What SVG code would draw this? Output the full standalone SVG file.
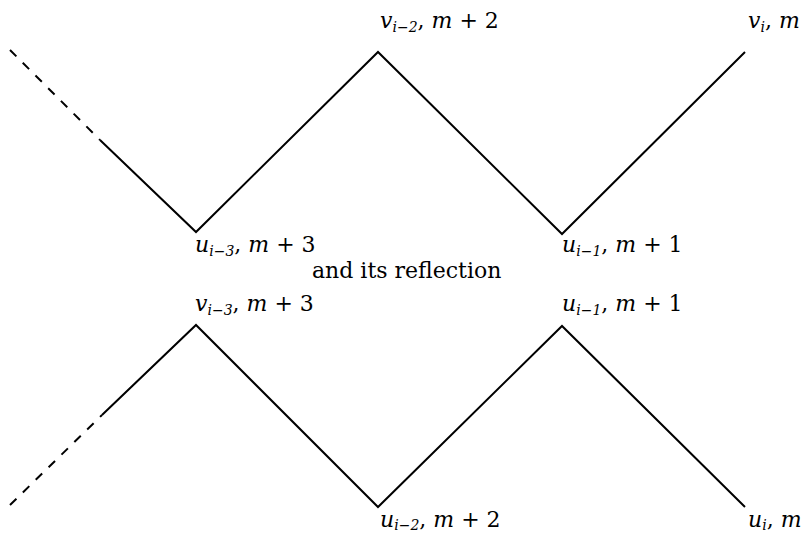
<svg xmlns="http://www.w3.org/2000/svg" width="804" height="535" viewBox="0 0 804 535">
<style>
.ln{fill:none;stroke:#000;stroke-width:2}
.ds{fill:none;stroke:#000;stroke-width:2;stroke-dasharray:9,9}
text{font-family:"DejaVu Serif","Liberation Serif",serif;font-size:22px;fill:#000}
.v{font-style:italic}
.s{font-size:14px;font-style:italic}
</style>
<rect width="804" height="535" fill="#fff"/>
<g id="connectors">
<path class="ds" d="M10,50 L100,140"/>
<path class="ln" d="M100,140 L196,232 L378,52 L562,234 L745,52"/>
<path class="ds" d="M10,505 L102,415"/>
<path class="ln" d="M102,415 L196,325 L378,507 L562,326 L745,507"/>
</g>
<g id="n1"><text x="380" y="28"><tspan class="v">v</tspan><tspan class="s" dy="4">i−2</tspan><tspan dy="-4">, </tspan><tspan class="v">m</tspan> + 2</text></g>
<g id="n2"><text x="748" y="28"><tspan class="v">v</tspan><tspan class="s" dy="4">i</tspan><tspan dy="-4">, </tspan><tspan class="v">m</tspan></text></g>
<g id="n3"><text x="195" y="252"><tspan class="v">u</tspan><tspan class="s" dy="4">i−3</tspan><tspan dy="-4">, </tspan><tspan class="v">m</tspan> + 3</text></g>
<g id="n4"><text x="562" y="252"><tspan class="v">u</tspan><tspan class="s" dy="4">i−1</tspan><tspan dy="-4">, </tspan><tspan class="v">m</tspan> + 1</text></g>
<g id="caption"><text x="312" y="278">and its reflection</text></g>
<g id="n5"><text x="195" y="311"><tspan class="v">v</tspan><tspan class="s" dy="4">i−3</tspan><tspan dy="-4">, </tspan><tspan class="v">m</tspan> + 3</text></g>
<g id="n6"><text x="562" y="311"><tspan class="v">u</tspan><tspan class="s" dy="4">i−1</tspan><tspan dy="-4">, </tspan><tspan class="v">m</tspan> + 1</text></g>
<g id="n7"><text x="380" y="527"><tspan class="v">u</tspan><tspan class="s" dy="3">i−2</tspan><tspan dy="-3">, </tspan><tspan class="v">m</tspan> + 2</text></g>
<g id="n8"><text x="748" y="527"><tspan class="v">u</tspan><tspan class="s" dy="3">i</tspan><tspan dy="-3">, </tspan><tspan class="v">m</tspan></text></g>
</svg>
